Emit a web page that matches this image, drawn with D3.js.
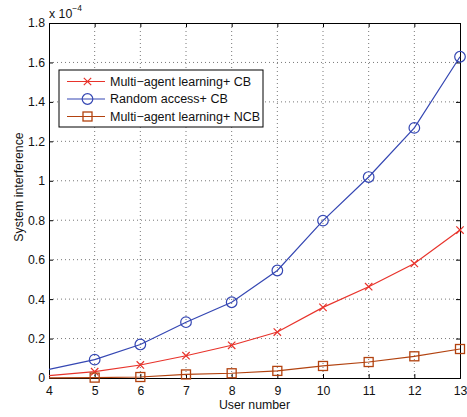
<!DOCTYPE html>
<html>
<head>
<meta charset="utf-8">
<script src="https://cdn.jsdelivr.net/npm/d3@7"></script>
<style>
  body { margin: 0; background: #fff; }
  svg { display: block; font-family: "Liberation Sans", Arial, sans-serif; }
</style>
</head>
<body>
<div id="chart"></div>
<script>
// data (values in units of 1e-4)
const users = [4, 5, 6, 7, 8, 9, 10, 11, 12, 13];
const learningCB = [0.012, 0.032, 0.066, 0.113, 0.166, 0.233, 0.358, 0.463, 0.581, 0.750];
const randomCB = [0.044, 0.093, 0.170, 0.283, 0.384, 0.545, 0.798, 1.019, 1.268, 1.629];
const learningNCB = [0.001, 0.002, 0.005, 0.018, 0.024, 0.036, 0.061, 0.081, 0.110, 0.147];
const xTicks = [4, 5, 6, 7, 8, 9, 10, 11, 12, 13];
const yTicks = [0, 0.2, 0.4, 0.6, 0.8, 1, 1.2, 1.4, 1.6, 1.8];
const yTickLabels = ['0', '0.2', '0.4', '0.6', '0.8', '1', '1.2', '1.4', '1.6', '1.8'];

const series = [
  { name: 'Multi\u2212agent learning+ CB', values: learningCB, color: '#e8332b', marker: 'x' },
  { name: 'Random access+ CB', values: randomCB, color: '#3547b3', marker: 'o' },
  { name: 'Multi\u2212agent learning+ NCB', values: learningNCB, color: '#b2420f', marker: 's' }
];

const W = 467, H = 417;
const margin = { top: 23, right: 7, bottom: 39, left: 49 };
const width = W - margin.left - margin.right;
const height = H - margin.top - margin.bottom;
const fontSize = 12.3;

const svg = d3.select('#chart').append('svg')
  .attr('width', W)
  .attr('height', H);

const g = svg.append('g').attr('transform', `translate(${margin.left},${margin.top})`);

const x = d3.scaleLinear().domain([4, 13]).range([0, width]);
const y = d3.scaleLinear().domain([0, 1.8]).range([height, 0]);

// grid
g.append('g').selectAll('line').data(xTicks.slice(1, -1)).enter().append('line')
  .attr('x1', d => x(d)).attr('x2', d => x(d))
  .attr('y1', 0).attr('y2', height)
  .attr('stroke', '#555').attr('stroke-width', 0.8)
  .attr('stroke-dasharray', '1,3');

g.append('g').selectAll('line').data(yTicks.slice(1, -1)).enter().append('line')
  .attr('y1', d => y(d)).attr('y2', d => y(d))
  .attr('x1', 0).attr('x2', width)
  .attr('stroke', '#555').attr('stroke-width', 0.8)
  .attr('stroke-dasharray', '1,3');

// axes: ticks pointing inward, box on
const xAxis = d3.axisBottom(x).tickValues(xTicks).tickSize(-4).tickPadding(8).tickFormat(d3.format('d'));
const yAxis = d3.axisLeft(y).tickValues(yTicks).tickSize(-4).tickPadding(4).tickFormat((d, i) => yTickLabels[i]);

g.append('g').attr('transform', `translate(0,${height})`).call(xAxis);
g.append('g').call(yAxis);
g.append('g').call(d3.axisTop(x).tickValues(xTicks).tickSize(-4).tickFormat(''));
g.append('g').attr('transform', `translate(${width},0)`).call(d3.axisRight(y).tickValues(yTicks).tickSize(-4).tickFormat(''));

g.selectAll('.domain').attr('stroke', '#000').attr('stroke-width', 1);
g.selectAll('.tick line').attr('stroke', '#000');
g.selectAll('.tick text').attr('font-size', fontSize).attr('fill', '#111')
  .attr('font-family', '"Liberation Sans", Arial, sans-serif');

// exponent label
const expo = svg.append('text')
  .attr('x', margin.left)
  .attr('y', 18)
  .attr('font-size', fontSize)
  .attr('fill', '#111');
expo.append('tspan').text('x 10');
expo.append('tspan').attr('dy', -7).attr('font-size', 8.5).text('\u22124');

// axis labels
svg.append('text')
  .attr('x', margin.left + width / 2)
  .attr('y', 409)
  .attr('text-anchor', 'middle')
  .attr('font-size', fontSize)
  .attr('fill', '#111')
  .text('User number');

svg.append('text')
  .attr('transform', `translate(23,187) rotate(-90)`)
  .attr('text-anchor', 'middle')
  .attr('font-size', fontSize)
  .attr('fill', '#111')
  .text('System interference');

// lines
const line = d3.line()
  .x((d, i) => x(users[i]))
  .y(d => y(d));

function drawMarker(sel, type, color, cx, cy) {
  if (type === 'o') {
    sel.append('circle').attr('cx', cx).attr('cy', cy).attr('r', 5.3)
      .attr('fill', 'none').attr('stroke', color).attr('stroke-width', 1.2);
  } else if (type === 's') {
    sel.append('rect').attr('x', cx - 4.5).attr('y', cy - 4.5).attr('width', 9).attr('height', 9)
      .attr('fill', 'none').attr('stroke', color).attr('stroke-width', 1.3);
  } else {
    const s = 3.7;
    sel.append('path')
      .attr('d', `M${cx - s},${cy - s}L${cx + s},${cy + s}M${cx - s},${cy + s}L${cx + s},${cy - s}`)
      .attr('stroke', color).attr('stroke-width', 1.2).attr('fill', 'none');
  }
}

series.forEach(s => {
  g.append('path')
    .datum(s.values)
    .attr('fill', 'none')
    .attr('stroke', s.color)
    .attr('stroke-width', 1.2)
    .attr('d', line);
  const mg = g.append('g');
  s.values.forEach((v, i) => {
    if (i === 0) return;
    drawMarker(mg, s.marker, s.color, x(users[i]), y(v));
  });
});

// legend
const lg = svg.append('g').attr('transform', 'translate(59,70)');
lg.append('rect')
  .attr('width', 204).attr('height', 57)
  .attr('fill', '#fff').attr('stroke', '#000').attr('stroke-width', 1);
series.forEach((s, i) => {
  const ly = 11.5 + i * 17.5;
  lg.append('line')
    .attr('x1', 8).attr('x2', 46).attr('y1', ly).attr('y2', ly)
    .attr('stroke', s.color).attr('stroke-width', 1.2);
  drawMarker(lg, s.marker, s.color, 28.5, ly);
  lg.append('text')
    .attr('x', 51).attr('y', ly + 4.3)
    .attr('font-size', 12.5)
    .attr('fill', '#111')
    .text(s.name);
});
</script>
</body>
</html>
